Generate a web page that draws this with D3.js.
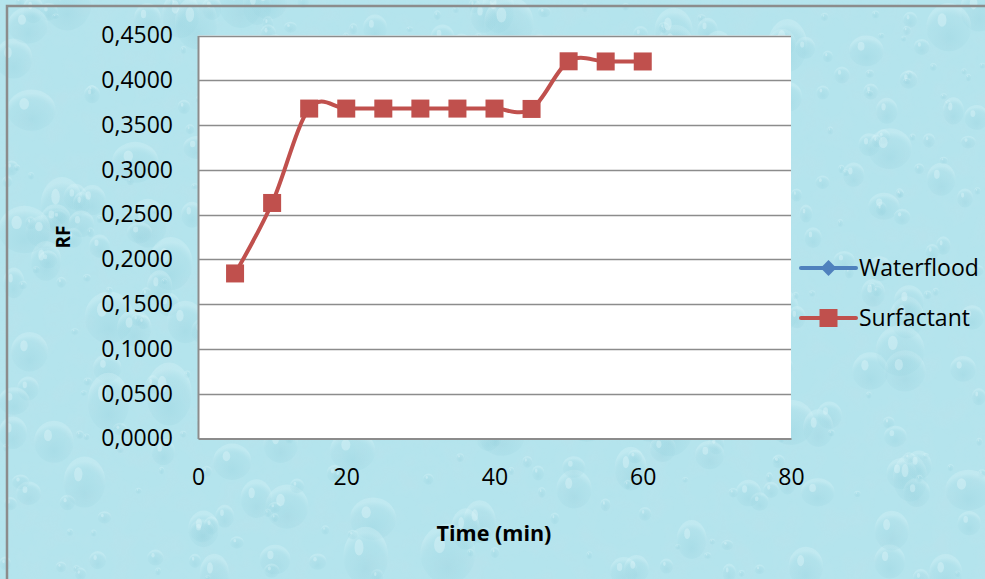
<!DOCTYPE html>
<html>
<head>
<meta charset="utf-8">
<script src="https://cdn.jsdelivr.net/npm/d3@7/dist/d3.min.js"></script>
<style>
  html, body { margin: 0; padding: 0; background: #ffffff; }
  svg { display: block; }
  text { font-family: "Open Sans", "Liberation Sans", sans-serif; fill: #000; }
</style>
</head>
<body>
<svg id="chart" width="985" height="579"></svg>
<script>
// Recovery factor over time, by flooding method
const timeMin = [5, 10, 15, 20, 25, 30, 35, 40, 45, 50, 55, 60];
const surfactantRF = [0.1843, 0.2630, 0.3684, 0.3684, 0.3684, 0.3684, 0.3684, 0.3684, 0.3680, 0.4212, 0.4210, 0.4210];
const waterfloodRF = [];
const seriesNames = ["Waterflood", "Surfactant"];
const xTicks = [0, 20, 40, 60, 80];
const yTicks = [0, 0.05, 0.10, 0.15, 0.20, 0.25, 0.30, 0.35, 0.40, 0.45];

const W = 985, H = 579;
const plot = { left: 198, right: 791, top: 35.5, bottom: 438.5 };

const svg = d3.select("#chart");
const defs = svg.append("defs");

// ---- water-drop backdrop ----
const noise = defs.append("filter").attr("id", "mottle")
  .attr("x", 0).attr("y", 0).attr("width", "100%").attr("height", "100%");
noise.append("feTurbulence").attr("type", "fractalNoise")
  .attr("baseFrequency", "0.045").attr("numOctaves", 3).attr("seed", 7).attr("result", "n");
noise.append("feColorMatrix").attr("type", "matrix")
  .attr("values", "0 0 0 0 0.50  0 0 0 0 0.76  0 0 0 0 0.83  0 0 0 -1.8 1.1");

const dropGrad = defs.append("radialGradient").attr("id", "drop")
  .attr("cx", "50%").attr("cy", "72%").attr("r", "62%");
dropGrad.append("stop").attr("offset", "0%").attr("stop-color", "#8ccbd9").attr("stop-opacity", 0.8);
dropGrad.append("stop").attr("offset", "75%").attr("stop-color", "#a3d9e4").attr("stop-opacity", 0.55);
dropGrad.append("stop").attr("offset", "100%").attr("stop-color", "#d9f4f8").attr("stop-opacity", 0.9);

const bg = svg.append("g");
bg.append("rect").attr("width", W).attr("height", H).attr("fill", "#b4e4ed");
bg.append("rect").attr("width", W).attr("height", H).attr("filter", "url(#mottle)").attr("opacity", 0.5);

// scattered droplets, placed with a small seeded generator
let seed = 24680;
const rnd = () => { seed = (seed * 1103515245 + 12345) % 2147483648; return seed / 2147483648; };
const drops = [];
for (let i = 0; i < 520; i++) {
  const r = 3 + Math.pow(rnd(), 2.6) * 22;
  drops.push({ x: rnd() * W, y: rnd() * H, rx: r * (0.85 + rnd() * 0.3), ry: r * (0.9 + rnd() * 0.4) });
}
const dg = bg.append("g");
dg.selectAll("ellipse.d").data(drops).join("ellipse").attr("class", "d")
  .attr("cx", d => d.x).attr("cy", d => d.y)
  .attr("rx", d => d.rx).attr("ry", d => d.ry)
  .attr("fill", "url(#drop)").attr("opacity", 0.35);
dg.selectAll("ellipse.h").data(drops).join("ellipse").attr("class", "h")
  .attr("cx", d => d.x - d.rx * 0.3).attr("cy", d => d.y - d.ry * 0.3)
  .attr("rx", d => d.rx * 0.2).attr("ry", d => d.ry * 0.28)
  .attr("fill", "#e9f9fb").attr("opacity", 0.35);

// chart frame
svg.append("rect").attr("x", 7).attr("y", 6).attr("width", W).attr("height", H)
  .attr("fill", "none").attr("stroke", "#8c8c8c").attr("stroke-width", 2.5);

// ---- scales ----
const x = d3.scaleLinear().domain([0, 80]).range([plot.left, plot.right]);
const y = d3.scaleLinear().domain([0, 0.45]).range([plot.bottom, plot.top]);

// plot area
svg.append("rect")
  .attr("x", plot.left).attr("y", plot.top)
  .attr("width", plot.right - plot.left).attr("height", plot.bottom - plot.top)
  .attr("fill", "#ffffff");

// horizontal gridlines
svg.append("g").selectAll("line").data(yTicks.slice(1)).join("line")
  .attr("x1", plot.left).attr("x2", plot.right)
  .attr("y1", d => Math.round(y(d)) + 0.5).attr("y2", d => Math.round(y(d)) + 0.5)
  .attr("stroke", "#8c8c8c").attr("stroke-width", 1.5);

// axes (no tick marks, just labels)
const fmtY = v => d3.format(".4f")(v).replace(".", ",");
const yAxis = svg.append("g").attr("transform", `translate(${plot.left},0)`)
  .call(d3.axisLeft(y).tickValues(yTicks).tickFormat(fmtY).tickSize(0).tickPadding(25));
yAxis.select(".domain").attr("stroke", "#8c8c8c").attr("stroke-width", 2);
yAxis.selectAll("text").style("font-size", "23px").attr("font-family", null).attr("fill", "#000");

const xAxis = svg.append("g").attr("transform", `translate(0,${plot.bottom})`)
  .call(d3.axisBottom(x).tickValues(xTicks).tickFormat(d3.format("d")).tickSize(0).tickPadding(30));
xAxis.select(".domain").attr("stroke", "#8c8c8c").attr("stroke-width", 2);
xAxis.selectAll("text").style("font-size", "23px").attr("font-family", null).attr("fill", "#000");

// axis titles
svg.append("text").attr("transform", "translate(70,237) rotate(-90)")
  .attr("text-anchor", "middle").style("font-size", "19px").style("font-weight", "bold").text("RF");
svg.append("text").attr("x", 494).attr("y", 541)
  .attr("text-anchor", "middle").style("font-size", "21.5px").style("font-weight", "bold").text("Time (min)");

// ---- series ----
const colors = { Waterflood: "#4f81bd", Surfactant: "#c0504d" };
const line = d3.line().x(d => x(d[0])).y(d => y(d[1])).curve(d3.curveCatmullRom.alpha(0));

const wf = d3.zip(timeMin.slice(0, waterfloodRF.length), waterfloodRF);
const sf = d3.zip(timeMin, surfactantRF);

svg.append("path").datum(wf).attr("d", wf.length ? line(wf) : null)
  .attr("fill", "none").attr("stroke", colors.Waterflood).attr("stroke-width", 4);
svg.append("path").datum(sf).attr("d", line)
  .attr("fill", "none").attr("stroke", colors.Surfactant).attr("stroke-width", 4)
  .attr("stroke-linejoin", "round");

const M = 18;
svg.append("g").selectAll("rect").data(sf).join("rect")
  .attr("x", d => x(d[0]) - M / 2).attr("y", d => y(d[1]) - M / 2)
  .attr("width", M).attr("height", M).attr("fill", colors.Surfactant);

// ---- legend ----
const lg = svg.append("g");
const legendRows = [
  { name: seriesNames[0], y: 268, shape: "diamond" },
  { name: seriesNames[1], y: 318, shape: "square" }
];
legendRows.forEach(r => {
  const c = colors[r.name];
  lg.append("line").attr("x1", 801).attr("x2", 856).attr("y1", r.y).attr("y2", r.y)
    .attr("stroke", c).attr("stroke-width", 4).attr("stroke-linecap", "round");
  if (r.shape === "diamond") {
    lg.append("path").attr("d", d3.symbol(d3.symbolDiamond2, 160)())
      .attr("transform", `translate(828.5,${r.y})`).attr("fill", c);
  } else {
    lg.append("rect").attr("x", 828.5 - 9).attr("y", r.y - 9).attr("width", 18).attr("height", 18).attr("fill", c);
  }
  lg.append("text").attr("x", 859).attr("y", r.y + 8).style("font-size", "23px").text(r.name);
});
</script>
</body>
</html>
